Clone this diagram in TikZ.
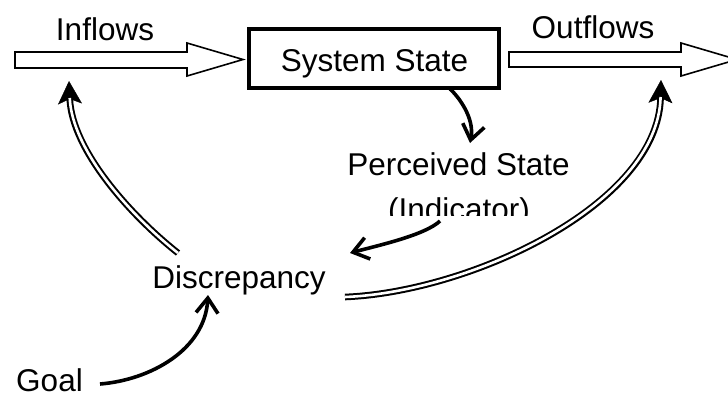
\documentclass[tikz,border=0pt]{standalone}
\usepackage{fontspec}
\setmainfont{Liberation Sans}
\usetikzlibrary{arrows.meta}
\begin{document}
\begin{tikzpicture}[x=1pt,y=-1pt,
  lbl/.style={anchor=base, inner sep=0pt, font=\fontsize{31.5}{36}\selectfont},
  flow/.style={draw=black, line width=1.6pt, fill=white, line join=miter},
  link/.style={line width=3.6pt, -{Straight Barb[length=15pt,width=22pt]}},
  dblout/.style={line width=6.6pt, -{Stealth[length=23pt,width=24pt,inset=5pt,line width=0.4pt]}},
  dblin/.style={white, line width=2.6pt, shorten >=17pt}]
\useasboundingbox (0,0) rectangle (728,397);
\clip (0,0) rectangle (728,397);

% stock box and labels
\node[draw, line width=4pt, minimum width=250pt, minimum height=59pt, inner sep=0pt] (stateBox) at (374,58.5) {};
\node[lbl] (stateText) at (374.5,71) {System State};
\node[lbl] (inflowsLabel) at (105,40) {Inflows};
\node[lbl] (outflowsLabel) at (593,38) {Outflows};
\node[lbl] (perceived) at (458.5,175) {Perceived State};
\begin{scope}
  \clip (300,180) rectangle (620,215);
  \node[lbl] (indicator) at (459,220) {(Indicator)};
\end{scope}
\node[lbl] (discrepancy) at (239,288) {Discrepancy};
\node[lbl] (goal) at (49.5,391) {Goal};

% flow pipes
\draw[flow] (15,52) -- (187,52) -- (187,43) -- (243,59.5) -- (187,76) -- (187,68) -- (15,68) -- cycle;
\draw[flow] (509,52) -- (681,52) -- (681,43) -- (737,59.5) -- (681,76) -- (681,67) -- (509,67) -- cycle;

% information links
\coordinate (sOut) at (450,89);
\coordinate (pIn) at (470,143);
\coordinate (iOut) at (440,221);
\coordinate (dIn) at (350,253);
\coordinate (gOut) at (100,384);
\coordinate (gIn) at (208,295);
\draw[link] (sOut) .. controls (458,96) and (475,118) .. (pIn);
\draw[link] (iOut) .. controls (425,235) and (380,245) .. (dIn);
\draw[link] (gOut) .. controls (150,380) and (205,350) .. (gIn);

% corrective actions (double lines)
\coordinate (dLeft) at (178,253);
\coordinate (inTip) at (69,81);
\coordinate (dRight) at (345,297);
\coordinate (outTip) at (661,80);
\draw[dblout] (dLeft) .. controls (130,215) and (72,150) .. (inTip);
\draw[dblin] (dLeft) .. controls (130,215) and (72,150) .. (inTip);
\draw[dblout] (dRight) .. controls (470,292) and (658,205) .. (outTip);
\draw[dblin] (dRight) .. controls (470,292) and (658,205) .. (outTip);
\end{tikzpicture}
\end{document}
